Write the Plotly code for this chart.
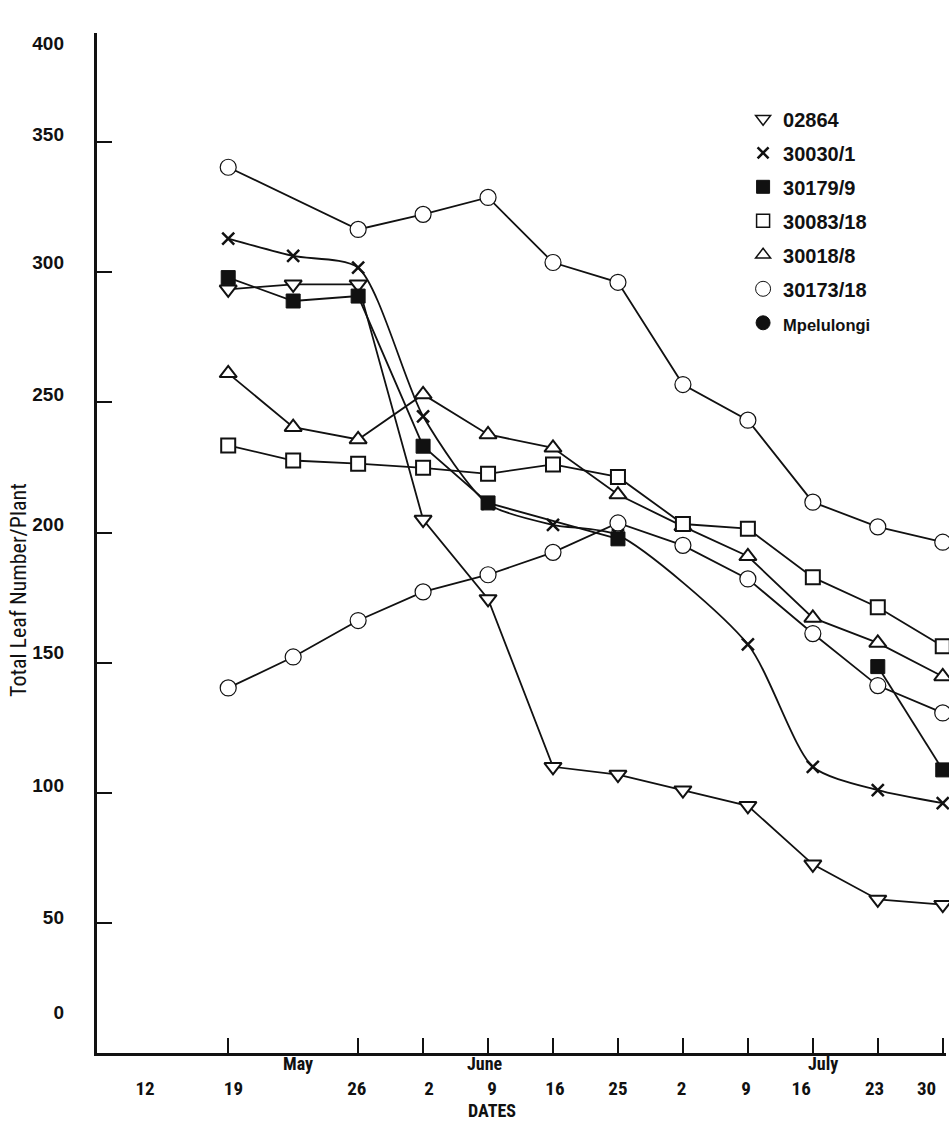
import plotly.graph_objects as go

# ---------------- data (x = sampling-date index, 0 = 19 May) ----------------
x_02864 = [0, 1, 2, 3, 4, 5, 6, 7, 8, 9, 10, 11]
y_02864 = [293.5, 295.4, 295.4, 205, 174.5, 110, 107, 101, 95, 72.5, 59, 57]

x_30030 = [0, 1, 2, 3, 4, 5, 6, 8, 9, 10, 11]
y_30030 = [313, 306.3, 301.8, 244.7, 211, 203, 199, 157, 110, 101, 96]

x_30179 = [0, 1, 2, 3, 4, 6, None, 10, 11]
y_30179 = [298, 289, 290.9, 233.2, 211.4, 197.6, None, 148.5, 108.8]

x_30083 = [0, 1, 2, 3, 4, 5, 6, 7, 8, 9, 10, 11]
y_30083 = [233.5, 227.7, 226.5, 224.9, 222.6, 226.2, 221.4, 203.3, 201.5, 182.8, 171.3, 156.3]

x_30018 = [0, 1, 2, 3, 4, 5, 6, 7, 8, 9, 10, 11]
y_30018 = [261.2, 240.5, 235.8, 253.1, 237.7, 232.6, 214.6, 202.4, 190.9, 167.2, 157.6, 144.7]

x_30173 = [0, 2, 3, 4, 5, 6, 7, 8, 9, 10, 11]
y_30173 = [340.4, 316.5, 322.3, 328.8, 303.8, 296.2, 256.9, 243.2, 211.7, 202.2, 196.3]

x_mpel = [0, 1, 2, 3, 4, 5, 6, 7, 8, 9, 10, 11]
y_mpel = [140.3, 152.2, 166.2, 177.2, 183.8, 192.4, 203.7, 195.1, 182.2, 161.2, 141.2, 130.7]

# axis ticks / labels
x_tick_idx = [0, 2, 3, 4, 5, 6, 7, 8, 9, 10, 11]
x_label_text = ["12", "19", "26", "2", "9", "16", "25", "2", "9", "16", "23", "30"]
x_label_pos = [-1.28, 0.08, 1.98, 3.09, 4.06, 5.03, 6.0, 6.98, 7.97, 8.82, 9.95, 10.75]
month_text = ["May", "June", "July"]
month_pos = [1.08, 3.95, 9.15]

y_tick_vals = [50, 100, 150, 200, 250, 300, 350, 392]
y_label_text = ["0", "50", "100", "150", "200", "250", "300", "350", "400"]
y_label_pos = [15.5, 52, 103, 154, 203, 253, 304, 353, 388]

series_names = ["02864", "30030/1", "30179/9", "30083/18", "30018/8", "30173/18",
                "<span style='font-size:16.5px'>Mpelulongi</span>"]

# ---------------- figure ----------------
BLACK = "#111111"
fig = go.Figure()

def add_line(x, y, symbol, size, fill, lw_marker, shape="linear", connect=False, smooth=None):
    line = dict(color=BLACK, width=1.8, shape=shape)
    if smooth is not None:
        line["smoothing"] = smooth
    fig.add_trace(go.Scatter(
        x=x, y=y, mode="lines+markers", showlegend=False, connectgaps=connect,
        cliponaxis=False,
        line=line,
        marker=dict(symbol=symbol, size=size, color=fill,
                    line=dict(color=BLACK, width=lw_marker)),
        hoverinfo="skip"))

add_line(x_mpel, y_mpel, "circle", 16, "white", 1.2)
add_line(x_30173, y_30173, "circle", 16, "white", 1.2)
add_line(x_30018, y_30018, "triangle-up", 15, "white", 2)
add_line(x_30083, y_30083, "square", 14, "white", 2)
add_line(x_02864, y_02864, "triangle-down", 15, "white", 2)
add_line(x_30030, y_30030, "x-thin", 12, BLACK, 2.5, shape="spline", connect=True, smooth=0.7)
add_line(x_30179, y_30179, "square", 14, BLACK, 1, connect=False)

# legend-only entries
leg_styles = [
    ("triangle-down", 13, "white", 1.5),
    ("x-thin", 11, BLACK, 2.5),
    ("square", 13, BLACK, 1),
    ("square", 13, "white", 1.5),
    ("triangle-up", 13, "white", 1.5),
    ("circle", 15, "white", 1),
    ("circle", 14, BLACK, 1),
]
for i, (nm, (sym, sz, col, lw)) in enumerate(zip(series_names, leg_styles)):
    fig.add_trace(go.Scatter(
        x=[None], y=[None], mode="markers", name=nm, legendgroup=f"g{i}",
        marker=dict(symbol=sym, size=sz, color=col, line=dict(color=BLACK, width=lw))))

# helper trace so the overlay axes exist
fig.add_trace(go.Scatter(x=[None], y=[None], xaxis="x2", yaxis="y2",
                         showlegend=False, hoverinfo="skip"))

XR = [-2.02, 11.05]
YR = [0, 392]
NARROW = "Liberation Sans Narrow, Roboto Condensed, Liberation Sans, Arial, sans-serif"
SANS = "Liberation Sans, Arial, Helvetica, sans-serif"

fig.update_layout(
    width=949, height=1142,
    margin=dict(l=97, r=3, t=33, b=89, pad=0),
    plot_bgcolor="white", paper_bgcolor="white",
    xaxis=dict(range=XR, showgrid=False, zeroline=False, showline=True,
               linecolor=BLACK, linewidth=3, ticks="inside", ticklen=15,
               tickwidth=2, tickcolor=BLACK, tickmode="array",
               tickvals=x_tick_idx, showticklabels=False),
    xaxis2=dict(range=XR, overlaying="x", anchor="y", side="bottom",
                showgrid=False, zeroline=False, showline=False, ticks="",
                tickmode="array", tickvals=x_label_pos, ticktext=x_label_text,
                ticklabelstandoff=22,
                tickfont=dict(family=NARROW, size=19, color=BLACK, weight="bold")),
    yaxis=dict(range=YR, showgrid=False, zeroline=False, showline=True,
               linecolor=BLACK, linewidth=3, ticks="inside", ticklen=15,
               tickwidth=2, tickcolor=BLACK, tickmode="array",
               tickvals=y_tick_vals, showticklabels=False),
    yaxis2=dict(range=YR, overlaying="y", anchor="x", side="left",
                showgrid=False, zeroline=False, showline=False, ticks="",
                tickmode="array", tickvals=y_label_pos, ticktext=y_label_text,
                ticklabelstandoff=32,
                tickfont=dict(family=SANS, size=19, color=BLACK, weight="bold")),
    legend=dict(x=0.761, y=0.935, xanchor="left", yanchor="top",
                bgcolor="rgba(0,0,0,0)", tracegroupgap=5,
                font=dict(family=SANS, size=20, color=BLACK, weight="bold"),
                itemclick=False, itemdoubleclick=False),
)

annotations = []
for t, p in zip(month_text, month_pos):
    annotations.append(dict(x=p, xref="x", y=-(1063 - 1053) / 1020, yref="paper",
                            text=t, showarrow=False, yanchor="middle",
                            font=dict(family=NARROW, size=18, color=BLACK, weight="bold")))
annotations.append(dict(x=4.06, xref="x", y=-(1110 - 1053) / 1020, yref="paper",
                        text="DATES", showarrow=False, yanchor="middle",
                        font=dict(family=NARROW, size=18, color=BLACK, weight="bold")))
annotations.append(dict(x=(18 - 97) / 849, xref="paper", y=1 - (590 - 33) / 1020,
                        yref="paper", text="Total Leaf Number/Plant", textangle=-90,
                        showarrow=False, xanchor="center", yanchor="middle",
                        font=dict(family=NARROW, size=22, color=BLACK)))
fig.update_layout(annotations=annotations)

fig.write_html("out.html")
